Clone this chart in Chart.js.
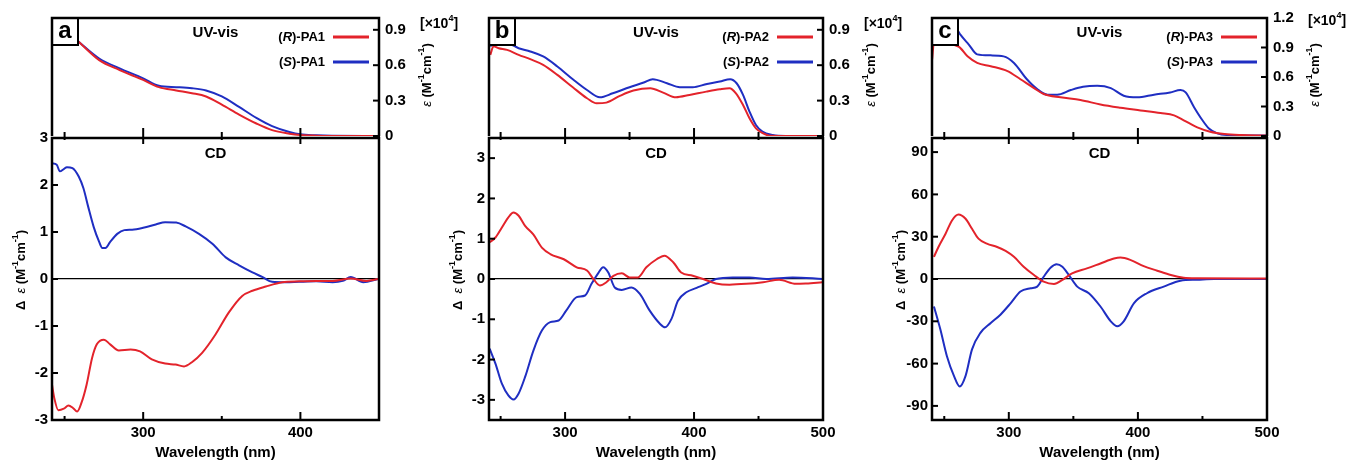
<!DOCTYPE html>
<html>
<head>
<meta charset="utf-8">
<title>UV-vis and CD spectra of PA1-PA3</title>
<script src="https://cdn.jsdelivr.net/npm/chart.js@4.4.0/dist/chart.umd.min.js"></script>
<style>
  html, body { margin: 0; padding: 0; background: #fff; }
  #fig { position: relative; width: 1349px; height: 462px; overflow: hidden; }
  #fig canvas { position: absolute; }
</style>
</head>
<body>
<div id="fig"></div>
<script>
// ---------- Data ----------

// tick values
const xTicksA = [250, 300, 350, 400, 450];
const xTicksBC = [250, 300, 350, 400, 450, 500];
const uvTicksAB = [0, 0.3, 0.6, 0.9];
const uvTicksC = [0, 0.3, 0.6, 0.9, 1.2];
const cdTicksA = [-3, -2, -1, 0, 1, 2, 3];
const cdTicksB = [-3, -2, -1, 0, 1, 2, 3];
const cdTicksC = [-90, -60, -30, 0, 30, 60, 90];

// panel a, UV-vis (x10^4)
const uvA_wl = [242, 250, 258, 272, 285, 300, 310, 321, 331, 340, 350, 361, 372, 382, 393, 400, 410, 420, 450];
const uvA_R = [0.99, 0.9, 0.81, 0.643, 0.559, 0.475, 0.414, 0.386, 0.363, 0.335, 0.266, 0.182, 0.106, 0.05, 0.02, 0.008, 0.003, 0.001, 0];
const uvA_S = [0.99, 0.9, 0.81, 0.657, 0.573, 0.489, 0.425, 0.414, 0.405, 0.386, 0.335, 0.246, 0.154, 0.084, 0.034, 0.014, 0.006, 0.002, 0];

// panel a, CD
const cdA_wlR = [242, 243.5, 246, 249.5, 252.5, 255.5, 258, 261, 264, 267.5, 270.5, 275, 279, 284.5, 292, 298, 305.5, 314, 320.5, 326, 331, 337.5, 346, 354.5, 363, 369.5, 378, 388.5, 399.5, 410, 420.5, 432, 442, 449.5];
const cdA_R = [-2.25, -2.54, -2.79, -2.76, -2.69, -2.75, -2.82, -2.61, -2.25, -1.68, -1.39, -1.29, -1.39, -1.52, -1.5, -1.54, -1.71, -1.8, -1.82, -1.86, -1.77, -1.57, -1.18, -0.71, -0.36, -0.25, -0.16, -0.07, -0.05, -0.04, -0.04, 0.01, -0.04, 0];
const cdA_wlS = [242, 245, 247, 249.5, 251.5, 255, 259, 262, 265, 268.5, 272, 274, 276, 279, 283.5, 288, 293, 300, 308, 314, 321, 327, 335.5, 344, 352.5, 361, 369.5, 376, 382, 391, 399, 410, 420.5, 427, 432, 440, 449.5];
const cdA_S = [2.46, 2.43, 2.29, 2.34, 2.38, 2.36, 2.18, 1.93, 1.54, 1.11, 0.79, 0.66, 0.66, 0.79, 0.96, 1.04, 1.05, 1.09, 1.16, 1.21, 1.2, 1.12, 0.96, 0.75, 0.46, 0.29, 0.14, 0.04, -0.06, -0.07, -0.06, -0.05, -0.07, -0.04, 0.04, -0.07, 0];

// panel b, UV-vis (x10^4)
const uvB_wlR = [242, 244.5, 248.5, 255, 264, 273, 283, 294, 306, 317, 324.5, 332, 342.5, 353, 366, 376, 386, 396.5, 409.5, 420, 427.5, 432.5, 438, 443, 448, 453.5, 458.5, 500];
const uvB_R = [0.688, 0.76, 0.744, 0.73, 0.688, 0.651, 0.603, 0.518, 0.413, 0.32, 0.277, 0.283, 0.34, 0.385, 0.405, 0.368, 0.328, 0.348, 0.376, 0.396, 0.405, 0.362, 0.263, 0.15, 0.065, 0.023, 0.003, 0];
const uvB_wlS = [242, 246, 255, 264, 273, 283, 294, 306, 317, 327, 337, 350, 361, 368, 379, 389, 399, 410, 420, 428, 433, 438, 443, 448, 453, 461, 471, 500];
const uvB_S = [0.76, 0.79, 0.787, 0.744, 0.716, 0.674, 0.589, 0.481, 0.39, 0.328, 0.362, 0.413, 0.453, 0.481, 0.447, 0.413, 0.413, 0.441, 0.461, 0.481, 0.447, 0.348, 0.207, 0.093, 0.037, 0.008, 0, 0];

// panel b, CD
const cdB_wlR = [241.5, 246, 251, 256, 260, 264, 269, 275.5, 282, 288.5, 299, 309, 317, 322, 327, 332, 337.5, 344, 350, 356.5, 363, 371, 377, 384, 390, 399, 407, 417, 427.5, 440.5, 453.5, 466, 479, 487, 499.5];
const cdB_R = [0.91, 1.03, 1.28, 1.53, 1.65, 1.57, 1.32, 1.1, 0.78, 0.62, 0.49, 0.29, 0.21, 0, -0.16, -0.08, 0.08, 0.14, 0.04, 0.04, 0.29, 0.49, 0.58, 0.41, 0.16, 0.08, 0, -0.11, -0.14, -0.12, -0.08, -0.02, -0.12, -0.11, -0.08];
const cdB_wlS = [241.5, 246, 251, 256, 260, 264, 269, 275.5, 282, 288.5, 295, 301, 309, 315.5, 320.5, 326, 329.5, 333.5, 338.5, 344, 351.5, 358, 365.5, 373.5, 377.5, 382.5, 387.5, 394, 402, 409.5, 417, 430, 443, 456, 476.5, 499.5];
const cdB_S = [-1.73, -2.1, -2.6, -2.89, -2.99, -2.84, -2.43, -1.77, -1.28, -1.07, -1.03, -0.78, -0.45, -0.41, -0.12, 0.16, 0.29, 0.16, -0.21, -0.27, -0.21, -0.37, -0.78, -1.11, -1.2, -0.99, -0.54, -0.33, -0.22, -0.12, 0, 0.04, 0.04, 0, 0.04, 0];

// panel c, UV-vis (x10^4)
const uvC_wlR = [240.6, 242, 261, 268, 275.5, 286, 299, 309, 319.5, 327, 340, 355.5, 371, 386.5, 402, 417.5, 428, 435.5, 446, 456, 467, 480, 500];
const uvC_R = [0.78, 0.95, 0.91, 0.81, 0.743, 0.71, 0.66, 0.577, 0.487, 0.427, 0.393, 0.367, 0.32, 0.287, 0.26, 0.233, 0.21, 0.16, 0.087, 0.043, 0.02, 0.01, 0.005];
const uvC_wlS = [242, 255, 261, 262.5, 269, 275.5, 286, 296, 304, 314, 322, 330, 337.5, 348, 357.5, 368.5, 379, 389, 399.5, 412.5, 425, 433, 437, 443.5, 450, 455, 461.5, 469, 500];
const uvC_S = [1.15, 1.1, 1.06, 1.03, 0.93, 0.83, 0.82, 0.81, 0.743, 0.577, 0.477, 0.42, 0.42, 0.467, 0.5, 0.51, 0.487, 0.41, 0.393, 0.42, 0.443, 0.467, 0.443, 0.293, 0.16, 0.077, 0.027, 0.01, 0.005];

// panel c, CD
const cdC_wlR = [242, 245.5, 251, 256, 261, 266.5, 271.5, 276.5, 283, 291, 297.5, 304, 311.5, 319.5, 327, 335, 341.5, 349, 360.5, 371, 381.5, 386.5, 394.5, 404.5, 415, 425.5, 435.5, 446, 500];
const cdC_R = [15.7, 22.7, 32.1, 41.5, 45.7, 42.7, 35.6, 28.6, 25.1, 22.7, 19.9, 15.7, 8.7, 2.8, -1.9, -3.5, -0.7, 4, 7.5, 11, 14.5, 15.2, 13.4, 9.1, 5.9, 2.8, 0.9, 0.5, 0.3];
const cdC_wlS = [242, 247, 252, 257.5, 262, 266.5, 271.5, 278, 286, 293.5, 301.5, 309, 317, 322, 327, 332.5, 337, 341.5, 346.5, 353, 362, 371, 379, 384, 389, 397, 407, 420, 433, 446, 459, 500];
const cdC_S = [-19.5, -35.9, -54.6, -68.7, -76.2, -68.7, -49.9, -38.2, -31.2, -25.3, -17.1, -8.9, -6.6, -5.4, 1.6, 8.2, 10.5, 8.7, 2.8, -5.4, -10.1, -19.5, -30, -33.5, -30, -17.1, -10.1, -5.4, -1.2, -0.5, 0, 0];

// ---------- Styles ----------
const RED = '#e3232b';
const BLUE = '#1f2ec2';
const FAM = '"Liberation Sans", Arial, Helvetica, sans-serif';
const B13 = 'bold 13px ' + FAM;
const BI13 = 'bold italic 13px ' + FAM;
const B14 = 'bold 14px ' + FAM;
const E13 = 'italic 13px ' + FAM;
const S9 = 'bold 9px ' + FAM;
const TICK_FONT = { family: FAM, size: 15, weight: 'bold' };

Chart.defaults.font.family = FAM;
Chart.defaults.color = '#000';

// panel layout (page pixels of the plot frames)
const PANELS = [
    { tag: 'a', name: 'PA1', left: 52, right: 379, xMin: 242, xMax: 450, xTicks: xTicksA,
      uvMax: 1.0, uvTicks: uvTicksAB, cdMin: -3, cdMax: 3, cdTicks: cdTicksA,
      uv: [uvA_wl, uvA_R, uvA_wl, uvA_S], cd: [cdA_wlR, cdA_R, cdA_wlS, cdA_S], tenY: 24 },
    { tag: 'b', name: 'PA2', left: 489, right: 823, xMin: 241, xMax: 500, xTicks: xTicksBC,
      uvMax: 1.0, uvTicks: uvTicksAB, cdMin: -3.5, cdMax: 3.5, cdTicks: cdTicksB,
      uv: [uvB_wlR, uvB_R, uvB_wlS, uvB_S], cd: [cdB_wlR, cdB_R, cdB_wlS, cdB_S], tenY: 24 },
    { tag: 'c', name: 'PA3', left: 932, right: 1267, xMin: 240.5, xMax: 500, xTicks: xTicksBC,
      uvMax: 1.2, uvTicks: uvTicksC, cdMin: -100, cdMax: 100, cdTicks: cdTicksC,
      uv: [uvC_wlR, uvC_R, uvC_wlS, uvC_S], cd: [cdC_wlR, cdC_R, cdC_wlS, cdC_S], tenY: 21 }
];

const UNIT = [['(M', B13], ['-1', S9, -5], ['cm', B13], ['-1', S9, -5], [')', B13]];

// ---------- Helpers ----------
function pts(wl, vals) {
    return wl.map((w, i) => ({ x: w, y: vals[i] }));
}

function series(label, wl, vals, color) {
    return {
        label: label,
        data: pts(wl, vals),
        borderColor: color,
        borderWidth: 2,
        pointRadius: 0,
        fill: false,
        cubicInterpolationMode: 'monotone'
    };
}

// draws text made of pieces with their own font (italic letters, superscripts)
function drawParts(ctx, parts, x, y, align, rotate) {
    ctx.save();
    ctx.translate(x, y);
    if (rotate) ctx.rotate(-Math.PI / 2);
    let w = 0;
    parts.forEach(p => { ctx.font = p[1]; w += ctx.measureText(p[0]).width; });
    let cx = align === 'right' ? -w : (align === 'left' ? 0 : -w / 2);
    ctx.textAlign = 'left';
    ctx.textBaseline = 'middle';
    ctx.fillStyle = '#000';
    parts.forEach(p => {
        ctx.font = p[1];
        ctx.fillText(p[0], cx, p[2] || 0);
        cx += ctx.measureText(p[0]).width;
    });
    ctx.restore();
}

function fixedTicks(values) {
    return scale => { scale.ticks = values.map(v => ({ value: v })); };
}

function addCanvas(left, top, width, height) {
    const c = document.createElement('canvas');
    c.width = width;
    c.height = height;
    c.style.left = left + 'px';
    c.style.top = top + 'px';
    c.style.width = width + 'px';
    c.style.height = height + 'px';
    document.getElementById('fig').appendChild(c);
    return c;
}

// frame and inward ticks, drawn after the data
function drawFrame(chart, P, kind) {
    const { ctx, chartArea: a, scales } = chart;
    ctx.save();
    ctx.strokeStyle = '#000';
    ctx.lineWidth = 2;
    P.xTicks.forEach(v => {
        const px = scales.x.getPixelForValue(v);
        const len = v % 100 === 0 ? 8 : 4;
        ctx.beginPath();
        if (kind === 'uv') {
            ctx.moveTo(px, a.bottom - len);
            ctx.lineTo(px, a.bottom + len);
        } else {
            ctx.moveTo(px, a.bottom);
            ctx.lineTo(px, a.bottom - len);
        }
        ctx.stroke();
    });
    const yTicks = kind === 'uv' ? P.uvTicks : P.cdTicks;
    yTicks.forEach(v => {
        const py = scales.y.getPixelForValue(v);
        ctx.beginPath();
        if (kind === 'uv') {
            ctx.moveTo(a.right, py);
            ctx.lineTo(a.right - 6, py);
        } else {
            ctx.moveTo(a.left, py);
            ctx.lineTo(a.left + 6, py);
        }
        ctx.stroke();
    });
    ctx.lineWidth = 2.5;
    if (kind === 'uv') {
        // the shared bottom edge is drawn once, by the CD chart
        ctx.beginPath();
        ctx.moveTo(a.left, a.bottom);
        ctx.lineTo(a.left, a.top);
        ctx.lineTo(a.right, a.top);
        ctx.lineTo(a.right, a.bottom);
        ctx.stroke();
    } else {
        ctx.strokeRect(a.left, a.top, a.right - a.left, a.bottom - a.top);
    }
    ctx.restore();
}

// ---------- UV-vis chart (top) ----------
function makeUV(P) {
    const w = P.right - P.left + 150;
    const canvas = addCanvas(P.left - 50, 0, w, 151);

    const uvPlugin = {
        id: 'uvDecor' + P.tag,
        afterDraw(chart) {
            const { ctx, chartArea: a } = chart;
            const mid = (a.left + a.right) / 2;

            drawParts(ctx, [['UV-vis', 'bold 15px ' + FAM]], mid, a.top + 15);

            // legend: name then line sample
            [['R', RED, 19], ['S', BLUE, 44]].forEach(item => {
                drawParts(ctx, [['(', B13], [item[0], BI13], [')-' + P.name, B13]], a.right - 54, a.top + item[2], 'right');
                ctx.save();
                ctx.strokeStyle = item[1];
                ctx.lineWidth = 3;
                ctx.beginPath();
                ctx.moveTo(a.right - 46, a.top + item[2]);
                ctx.lineTo(a.right - 10, a.top + item[2]);
                ctx.stroke();
                ctx.restore();
            });

            // right axis title and multiplier
            drawParts(ctx, [['ε ', E13]].concat(UNIT), a.right + 48, a.top + 57, 'center', true);
            drawParts(ctx, [['[×10', B14], ['4', S9, -5], [']', B14]], a.right + 41, P.tenY, 'left');

            // panel letter box
            ctx.save();
            ctx.fillStyle = '#fff';
            ctx.fillRect(a.left, a.top, 26, 27);
            ctx.strokeStyle = '#000';
            ctx.lineWidth = 2;
            ctx.strokeRect(a.left, a.top, 26, 27);
            ctx.restore();
            drawParts(ctx, [[P.tag, 'bold 24px ' + FAM]], a.left + 13, a.top + 13);

            drawFrame(chart, P, 'uv');
        }
    };

    return new Chart(canvas, {
        type: 'line',
        data: {
            datasets: [
                series('(R)-' + P.name, P.uv[0], P.uv[1], RED),
                series('(S)-' + P.name, P.uv[2], P.uv[3], BLUE)
            ]
        },
        options: {
            responsive: false,
            animation: false,
            devicePixelRatio: 1,
            events: [],
            layout: { padding: { left: 50, right: 60, top: 18, bottom: 0 } },
            plugins: { legend: { display: false }, tooltip: { enabled: false } },
            scales: {
                x: {
                    type: 'linear', min: P.xMin, max: P.xMax,
                    afterBuildTicks: fixedTicks(P.xTicks),
                    // reserve the strip below the frame so the "0" label doesn't push the plot up
                    afterFit: s => { s.height = 13; },
                    grid: { display: false, drawTicks: false },
                    border: { display: false },
                    ticks: { display: false }
                },
                y: {
                    type: 'linear', position: 'right', min: 0, max: P.uvMax,
                    afterBuildTicks: fixedTicks(P.uvTicks),
                    afterFit: s => { s.width = 40; },
                    grid: { display: false, drawTicks: false },
                    border: { display: false },
                    ticks: {
                        font: TICK_FONT, padding: 6, autoSkip: false,
                        callback: v => v === 0 ? '0' : v.toFixed(1)
                    }
                }
            }
        },
        plugins: [uvPlugin]
    });
}

// ---------- CD chart (bottom) ----------
function makeCD(P) {
    const w = P.right - P.left + 80;
    const canvas = addCanvas(P.left - 60, 120, w, 342);

    const cdPlugin = {
        id: 'cdDecor' + P.tag,
        afterDraw(chart) {
            const { ctx, chartArea: a } = chart;
            drawParts(ctx, [['CD', 'bold 15px ' + FAM]], (a.left + a.right) / 2, a.top + 16);
            drawParts(ctx, [['Δ', B13], ['  ', B13], ['ε ', E13]].concat(UNIT), a.left - 31, 150, 'center', true);
            drawFrame(chart, P, 'cd');
        }
    };

    return new Chart(canvas, {
        type: 'line',
        data: {
            datasets: [
                series('(R)-' + P.name, P.cd[0], P.cd[1], RED),
                series('(S)-' + P.name, P.cd[2], P.cd[3], BLUE)
            ]
        },
        options: {
            responsive: false,
            animation: false,
            devicePixelRatio: 1,
            events: [],
            layout: { padding: { left: 0, right: 20, top: 18, bottom: 0 } },
            plugins: { legend: { display: false }, tooltip: { enabled: false } },
            scales: {
                x: {
                    type: 'linear', min: P.xMin, max: P.xMax,
                    afterBuildTicks: fixedTicks(P.xTicks),
                    afterFit: s => { s.height = 42; },
                    grid: { display: false, drawTicks: false },
                    border: { display: false },
                    ticks: {
                        font: TICK_FONT, padding: 4, maxRotation: 0, autoSkip: false,
                        callback: v => v % 100 === 0 ? String(v) : ''
                    },
                    title: {
                        display: true, text: 'Wavelength (nm)',
                        font: { family: FAM, size: 15, weight: 'bold' },
                        padding: { top: 0, bottom: 0 }
                    }
                },
                y: {
                    type: 'linear', min: P.cdMin, max: P.cdMax,
                    afterBuildTicks: fixedTicks(P.cdTicks),
                    afterFit: s => { s.width = 60; },
                    grid: {
                        drawTicks: false,
                        lineWidth: 1.2,
                        color: c => (c.tick && c.tick.value === 0) ? '#000' : 'rgba(0,0,0,0)'
                    },
                    border: { display: false },
                    ticks: { font: TICK_FONT, padding: 4, autoSkip: false, callback: v => String(v) }
                }
            }
        },
        plugins: [cdPlugin]
    });
}

PANELS.forEach(P => {
    makeCD(P);
    makeUV(P);
});
</script>
</body>
</html>
